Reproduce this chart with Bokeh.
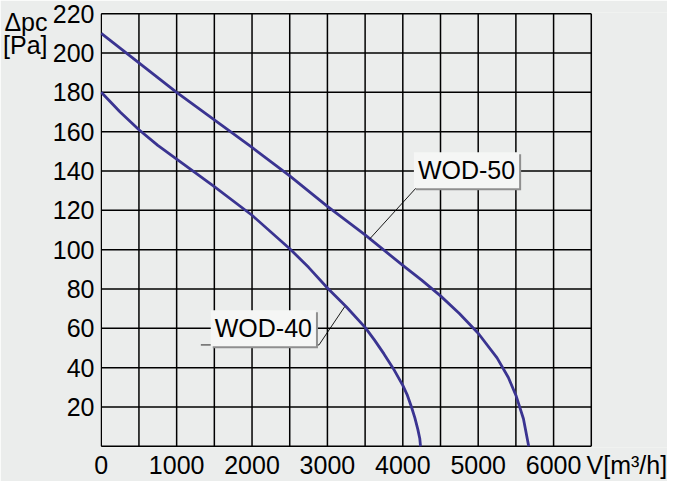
from bokeh.plotting import figure
from bokeh.models import FixedTicker, Label, LinearAxis, Range1d
from bokeh.embed import file_html
from bokeh.resources import INLINE

# ---- data ----
wod50_flow = [0, 500, 1000, 1500, 2000, 2500, 3000, 3500, 4000, 4250, 4500, 4750, 5000, 5250, 5400, 5500, 5600, 5670]
wod50_dp = [210, 195, 180, 166, 152, 137.5, 122, 107.5, 92, 84.5, 76.5, 67.5, 57.5, 45, 35, 26, 14, 0]

wod40_flow = [0, 250, 500, 750, 1000, 1500, 2000, 2500, 2750, 3000, 3250, 3500, 3625, 3750, 3875, 4000, 4060, 4115, 4160, 4200, 4225, 4235]
wod40_dp = [180, 170, 161, 153, 146, 132, 117.5, 100.5, 91, 80.5, 71, 60.5, 54, 47, 39.5, 31, 26, 20, 14.5, 8.5, 4, 0]

x_ticks = [0, 1000, 2000, 3000, 4000, 5000, 6000]
y_ticks = [20, 40, 60, 80, 100, 120, 140, 160, 180, 200, 220]
x_grid = list(range(0, 6501, 500))
y_grid = list(range(0, 221, 20))

x_unit_pos = 6972
x_unit_text = "V[m³/h]"
y_unit_pos = [216, 204]
y_unit_text = ["Δpc", "[Pa]"]

series_names = ["WOD-50", "WOD-40"]
# label anchors (annotation positions, data units)
label50_pos = (4845, 140.4)
label40_pos = (2150, 60.0)
leader50_x = [4205, 3562]
leader50_y = [132.6, 105.5]
under40_x = [1321, 2889]
under40_y = [51.6, 51.6]
leader40_x = [2889, 3229]
leader40_y = [51.6, 71.0]

FONT = "Liberation Sans"
FS = "25px"
BG = "#ebedec"
LINE = "#3a3491"

p = figure(width=667, height=481,
           x_range=Range1d(-10, 7511), y_range=Range1d(-0.6, 220.6),
           output_backend="svg", toolbar_location=None,
           min_border_left=94, min_border_right=0, min_border_top=12, min_border_bottom=32,
           background_fill_color=BG, border_fill_color=BG,
           outline_line_color=None)
p.xgrid.visible = False
p.ygrid.visible = False

def style_axis(ax):
    ax.axis_line_color = None
    ax.major_tick_line_color = None
    ax.minor_tick_line_color = None
    ax.major_tick_out = 0
    ax.major_tick_in = 0
    ax.minor_tick_out = 0
    ax.minor_tick_in = 0
    ax.major_label_text_font = FONT
    ax.major_label_text_font_size = FS
    ax.major_label_text_color = "black"

style_axis(p.xaxis[0])
style_axis(p.yaxis[0])
p.xaxis.ticker = FixedTicker(ticks=x_ticks + [x_unit_pos])
p.xaxis.major_label_overrides = {x_unit_pos: x_unit_text}
p.yaxis.ticker = FixedTicker(ticks=y_ticks)
p.xaxis.major_label_standoff = 3
p.yaxis.major_label_standoff = 6

unit_axis = LinearAxis(ticker=FixedTicker(ticks=y_unit_pos),
                       major_label_overrides=dict(zip(y_unit_pos, y_unit_text)))
style_axis(unit_axis)
unit_axis.major_label_standoff = 2
p.add_layout(unit_axis, "left")

# grid drawn from the grid arrays
p.segment(x0=x_grid, y0=[y_grid[0]] * len(x_grid), x1=x_grid, y1=[y_grid[-1]] * len(x_grid),
          line_color="black", line_width=1.5)
p.segment(x0=[x_grid[0]] * len(y_grid), y0=y_grid, x1=[x_grid[-1]] * len(y_grid), y1=y_grid,
          line_color="black", line_width=1.5)

p.line(wod50_flow, wod50_dp, line_color=LINE, line_width=2.8, line_join="round")
p.line(wod40_flow, wod40_dp, line_color=LINE, line_width=2.8, line_join="round")

# leader lines
p.line(leader50_x, leader50_y, line_color="black", line_width=0.9)
p.line(under40_x, under40_y, line_color="#7a7a7a", line_width=1.6)
p.line(leader40_x, leader40_y, line_color="black", line_width=0.9)

for name, (lx, ly) in zip(series_names, [label50_pos, label40_pos]):
    shadow = Label(x=lx, y=ly, text=name, text_align="center", text_baseline="middle",
                   text_font=FONT, text_font_size=FS, text_color="#8f8f8f",
                   background_fill_color="#8f8f8f", padding=4, x_offset=2, y_offset=-2)
    box = Label(x=lx, y=ly, text=name, text_align="center", text_baseline="middle",
                text_font=FONT, text_font_size=FS, text_color="black",
                background_fill_color="#f5f6f5", padding=4)
    p.add_layout(shadow)
    p.add_layout(box)

open("out.html", "w").write(file_html(p, INLINE))
